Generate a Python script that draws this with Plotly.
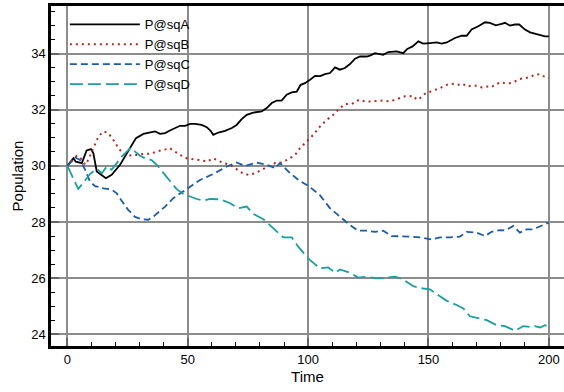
import plotly.graph_objects as go

# ---- data ----
time_A = [0, 2.5, 3.5, 6, 8, 9.8, 10.8, 12.2, 16, 18.4, 21.9, 24.7, 26.7, 28.5, 31.6, 34.3, 36.4, 38.5,
          40.6, 42.6, 44.7, 46.8, 48.9, 51, 53, 55.8, 57.9, 59.5, 60.6, 62.7, 65.5, 68.3, 70.3, 72.4,
          74.5, 77.2, 80.7, 82.8, 84.9, 87, 89, 91.1, 93.2, 95.3, 96.9, 98.7, 100.8, 102.9, 105, 107,
          109.1, 111.2, 113.2, 115.3, 117.4, 119.5, 121.6, 124.3, 125.7, 127.8, 131.2, 133.3, 136.8,
          139.5, 141.2, 143.4, 145.8, 147.8, 150.6, 153.4, 155.5, 157.6, 161, 163.8, 165.9, 167.9,
          170.7, 173.5, 175.5, 178, 180.4, 181.8, 183.8, 185.9, 187.7, 190.1, 192.2, 194.9, 197, 198.4, 200]
pop_A = [30, 30.27, 30.15, 30.1, 30.55, 30.6, 30.45, 29.8, 29.56, 29.68, 30.04, 30.45, 30.7, 30.99,
         31.14, 31.19, 31.23, 31.14, 31.17, 31.26, 31.35, 31.43, 31.43, 31.5, 31.5, 31.46, 31.38, 31.25,
         31.11, 31.19, 31.25, 31.35, 31.46, 31.67, 31.82, 31.9, 31.94, 32.06, 32.24, 32.33, 32.33, 32.54,
         32.62, 32.65, 32.89, 32.95, 33.07, 33.21, 33.2, 33.27, 33.31, 33.51, 33.43, 33.49, 33.63, 33.82,
         33.9, 33.9, 33.93, 34.02, 33.96, 34.06, 34.08, 34.02, 34.17, 34.26, 34.44, 34.36, 34.38, 34.4,
         34.36, 34.4, 34.56, 34.64, 34.64, 34.86, 34.98, 35.12, 35.1, 35.01, 35.06, 35.1, 35.0, 35.04,
         35.04, 34.86, 34.76, 34.71, 34.67, 34.62, 34.62]

time_B = [0, 2.5, 3.9, 6, 7.4, 8.7, 10.1, 11.5, 12.9, 15, 17, 19.1, 21.2, 23.3, 25.3, 27.4, 29.5, 31.6,
          34.3, 37.1, 39.9, 42.6, 44.7, 46.8, 49.6, 52.3, 55.1, 57.9, 60.6, 62.7, 64.8, 67.6, 69.6, 72.4,
          75.2, 78, 80.7, 83.5, 86.3, 89, 91.8, 94.6, 96.6, 98.7, 100.8, 102.2, 104.9, 107.7, 110.5, 112.5,
          115.3, 118.1, 121.3, 123.6, 126.4, 129.9, 134.1, 136.1, 138.2, 140.2, 142.3, 143.7, 145.1, 147.2,
          148.5, 150.6, 152.7, 154.7, 157.6, 159.6, 162.4, 164.2, 165.9, 167.9, 170, 172.1, 174.2, 175.8,
          177.6, 179.7, 181.8, 183.8, 185.9, 188, 190.1, 192.2, 194.2, 196.3, 198, 200]
pop_B = [30, 30.21, 30.36, 30.24, 30.04, 30.21, 30.51, 30.81, 31.05, 31.23, 31.17, 30.93, 30.63, 30.43,
         30.36, 30.39, 30.39, 30.43, 30.43, 30.51, 30.57, 30.63, 30.51, 30.39, 30.27, 30.24, 30.21, 30.15,
         30.27, 30.19, 30.1, 30.04, 29.92, 29.76, 29.68, 29.74, 29.86, 29.98, 30.1, 30.12, 30.24, 30.39,
         30.63, 30.81, 30.99, 31.11, 31.4, 31.64, 31.82, 32.0, 32.21, 32.21, 32.36, 32.3, 32.3, 32.33,
         32.3, 32.36, 32.42, 32.48, 32.48, 32.5, 32.36, 32.45, 32.57, 32.65, 32.71, 32.77, 32.89, 32.93,
         32.89, 32.93, 32.83, 32.86, 32.86, 32.8, 32.83, 32.8, 32.89, 32.98, 32.95, 32.95, 33.01, 33.1,
         33.13, 33.17, 33.25, 33.27, 33.19, 33.13]

time_C = [0, 3.2, 5.3, 7.4, 9.4, 11.5, 13.6, 15, 18.4, 20.5, 22.6, 25.3, 28.1, 30.9, 33.6, 35.7, 38.5,
          40.6, 44, 48.9, 51, 55.1, 60.6, 66.2, 70.3, 73.8, 78.6, 82.8, 86.3, 88.3, 92.5, 96, 100.5,
          104.9, 109.1, 113.2, 117.4, 120.8, 124.3, 127.8, 131.2, 134.7, 138.2, 142.3, 146.5, 151.3,
          154.8, 158.9, 163.1, 165.9, 170, 173.5, 176.2, 179.7, 182, 185.2, 188, 190.8, 193.5, 197.7, 200]
pop_C = [30, 30.3, 30.21, 29.86, 29.44, 29.28, 29.24, 29.2, 29.16, 29.02, 28.75, 28.43, 28.18, 28.1,
         28.08, 28.19, 28.4, 28.55, 28.85, 29.14, 29.28, 29.5, 29.71, 29.98, 30.12, 30.0, 30.12, 30.04,
         29.92, 30.1, 29.74, 29.5, 29.26, 28.96, 28.49, 28.19, 27.89, 27.69, 27.69, 27.65, 27.69, 27.5,
         27.5, 27.48, 27.45, 27.38, 27.45, 27.45, 27.48, 27.65, 27.62, 27.5, 27.65, 27.71, 27.7, 27.86,
         27.62, 27.74, 27.74, 27.89, 27.98]

time_D = [0, 2.5, 4.5, 6.6, 9.4, 12.2, 14.3, 16.4, 18.4, 20.5, 22.6, 24.7, 26.3, 28.1, 30.2, 33, 35,
          37.1, 39.9, 42.6, 45.4, 48.2, 51, 53.7, 56.5, 59.3, 63.4, 67.6, 71, 74.5, 77.2, 81.4, 85.5,
          89.7, 93.2, 95.9, 99.4, 100.8, 104.9, 108.4, 111.2, 113.2, 117.4, 120.8, 124.3, 128.5, 132.6,
          136.1, 139.5, 143.7, 147.8, 150.6, 153.4, 157.6, 161.7, 164.5, 167.2, 170, 174.2, 178.3, 181.8,
          185.9, 189.4, 192.2, 194.2, 196.3, 198.4, 200]
pop_D = [30, 29.56, 29.18, 29.4, 29.71, 29.9, 29.74, 29.98, 29.86, 30.1, 30.33, 30.51, 30.65, 30.51,
         30.36, 30.24, 30.21, 30.04, 29.74, 29.44, 29.17, 29.0, 28.9, 28.82, 28.76, 28.82, 28.81, 28.67,
         28.49, 28.55, 28.29, 28.1, 27.78, 27.45, 27.45, 27.12, 26.76, 26.64, 26.35, 26.38, 26.19, 26.31,
         26.19, 26.02, 26.05, 25.99, 26.02, 26.05, 25.95, 25.71, 25.63, 25.6, 25.43, 25.19, 25.04, 24.92,
         24.64, 24.58, 24.5, 24.32, 24.29, 24.12, 24.29, 24.26, 24.29, 24.24, 24.32, 24.26]

series_names = ["P@sqA", "P@sqB", "P@sqC", "P@sqD"]
x_ticks = [0, 50, 100, 150, 200]
y_ticks = [24, 26, 28, 30, 32, 34]

# ---- styling ----
styles = [
    dict(color="#000000", width=1.8, dash="solid"),
    dict(color="#b22a1e", width=2, dash="2px,4px"),
    dict(color="#1b5ca6", width=1.8, dash="7px,4px"),
    dict(color="#1a9e9e", width=1.8, dash="13px,5px"),
]
data = [(time_A, pop_A), (time_B, pop_B), (time_C, pop_C), (time_D, pop_D)]

fig = go.Figure()
for (t, p), name, st in zip(data, series_names, styles):
    fig.add_trace(go.Scatter(x=t, y=p, mode="lines", name=name, line=st))

font_family = "Liberation Sans, Arial, sans-serif"
fig.update_layout(
    width=564, height=392,
    margin=dict(l=51, r=0, t=6, b=46, autoexpand=False),
    paper_bgcolor="white", plot_bgcolor="white",
    font=dict(family=font_family, size=13, color="black"),
    showlegend=True,
    legend=dict(x=0.027, y=0.99, xanchor="left", yanchor="top", bgcolor="rgba(0,0,0,0)",
                itemwidth=70, font=dict(size=13), tracegroupgap=0),
)
fig.update_xaxes(
    range=[-6.8, 206.3], tickvals=x_ticks, ticktext=[str(v) for v in x_ticks],
    automargin=False,
    showgrid=True, gridcolor="#8c8c8c", gridwidth=1.5,
    showline=True, linecolor="black", linewidth=2.5, mirror=True,
    ticks="inside", ticklen=8, tickwidth=2, tickcolor="#666666",
    minor=dict(dtick=10, tick0=0, ticks="inside", ticklen=4, tickcolor="black", tickwidth=1, showgrid=False),
    zeroline=False,
    title=dict(text="Time", font=dict(size=15), standoff=6),
    tickfont=dict(size=13),
)
fig.update_yaxes(
    range=[23.58, 35.70], tickvals=y_ticks, ticktext=[str(v) for v in y_ticks],
    automargin=False,
    showgrid=True, gridcolor="#8c8c8c", gridwidth=1.5,
    showline=True, linecolor="black", linewidth=2.5, mirror=False,
    ticks="inside", ticklen=8, tickwidth=2, tickcolor="#666666",
    minor=dict(dtick=0.5, tick0=24, ticks="inside", ticklen=4, tickcolor="black", tickwidth=1, showgrid=False),
    zeroline=False,
    title=dict(text="Population", font=dict(size=15), standoff=4),
    tickfont=dict(size=13),
)

fig.write_html("out.html", config={"displayModeBar": False},
               post_script="document.body.style.margin='0px';document.body.style.overflow='hidden';")
